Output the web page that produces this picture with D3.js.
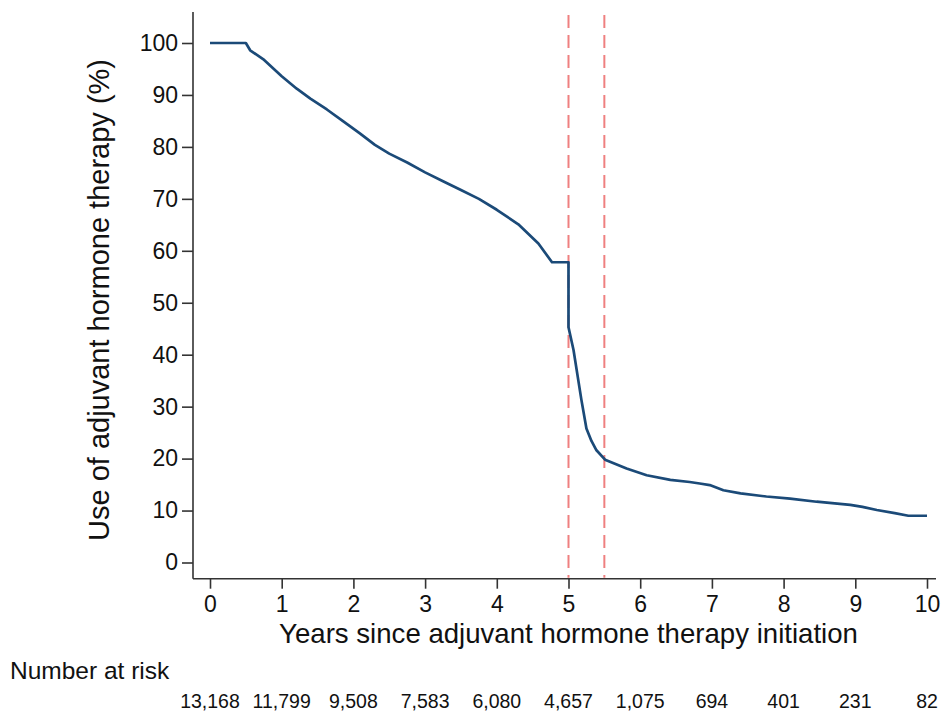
<!DOCTYPE html>
<html>
<head>
<meta charset="utf-8">
<script src="https://cdn.jsdelivr.net/npm/d3@7"></script>
<style>
  body { margin: 0; background: #fff; }
  svg { display: block; font-family: "Liberation Sans", Arial, sans-serif; }
</style>
</head>
<body>
<div id="chart"></div>
<script>
// Kaplan-Meier style curve
const curveYears = [0, 0.5, 0.56, 0.74, 1.0, 1.21, 1.4, 1.63, 1.85, 2.09, 2.3, 2.5, 2.75, 3.0, 3.25, 3.5, 3.75, 4.0, 4.3, 4.58, 4.77, 5.0, 5.0, 5.07, 5.18, 5.25, 5.32, 5.39, 5.51, 5.81, 6.09, 6.42, 6.69, 6.83, 6.97, 7.16, 7.4, 7.76, 8.09, 8.46, 8.93, 9.1, 9.3, 9.55, 9.74, 10.0];
const curvePct   = [100, 100, 98.6, 96.9, 93.6, 91.2, 89.3, 87.2, 85, 82.6, 80.4, 78.7, 77, 75.1, 73.4, 71.7, 70, 67.9, 65.1, 61.4, 57.8, 57.8, 45.3, 40.9, 31.3, 25.8, 23.4, 21.6, 19.8, 18.1, 16.8, 15.9, 15.5, 15.2, 14.9, 13.9, 13.3, 12.7, 12.3, 11.7, 11.1, 10.7, 10.1, 9.5, 9.0, 9.0];

const xTicks = [0, 1, 2, 3, 4, 5, 6, 7, 8, 9, 10];
const yTicks = [0, 10, 20, 30, 40, 50, 60, 70, 80, 90, 100];
const refLines = [5, 5.5];
const riskYears = [0, 1, 2, 3, 4, 5, 6, 7, 8, 9, 10];
const riskCounts = ["13,168", "11,799", "9,508", "7,583", "6,080", "4,657", "1,075", "694", "401", "231", "82"];

const W = 942, H = 712;
const lineColor = "#1b4a78";
const textColor = "#111";

const svg = d3.select("#chart").append("svg")
    .attr("width", W)
    .attr("height", H);

const x = d3.scaleLinear().domain([0, 10]).range([210, 927]);
const y = d3.scaleLinear().domain([0, 100]).range([562.5, 43]);

// axis baselines sit a bit outside the data range
const xAxisY = 578.7, yAxisX = 193;

// y axis
const yAxis = svg.append("g")
    .attr("transform", `translate(${yAxisX},0)`)
    .call(d3.axisLeft(y).tickValues(yTicks).tickSize(11).tickPadding(4));
yAxis.select(".domain").remove();
yAxis.selectAll(".tick line").attr("stroke", "#333").attr("stroke-width", 1.6);
yAxis.selectAll(".tick text")
    .attr("fill", textColor)
    .style("font-size", "23px");
svg.append("line")
    .attr("x1", yAxisX).attr("x2", yAxisX)
    .attr("y1", 12).attr("y2", xAxisY)
    .attr("stroke", "#333").attr("stroke-width", 1.6);

// x axis
const xAxis = svg.append("g")
    .attr("transform", `translate(0,${xAxisY})`)
    .call(d3.axisBottom(x).tickValues(xTicks).tickSize(10).tickPadding(7));
xAxis.select(".domain").remove();
xAxis.selectAll(".tick line").attr("stroke", "#333").attr("stroke-width", 1.6);
xAxis.selectAll(".tick text")
    .attr("fill", textColor)
    .style("font-size", "23px");
svg.append("line")
    .attr("x1", yAxisX).attr("x2", 936)
    .attr("y1", xAxisY).attr("y2", xAxisY)
    .attr("stroke", "#333").attr("stroke-width", 1.6);

// reference lines at 5 and 5.5 years
svg.selectAll(".refline")
    .data(refLines)
    .enter().append("line")
    .attr("class", "refline")
    .attr("x1", d => x(d)).attr("x2", d => x(d))
    .attr("y1", 15).attr("y2", xAxisY - 1)
    .attr("stroke", "#ef8080")
    .attr("stroke-width", 2)
    .attr("stroke-dasharray", "13,7");

// the curve
const pts = curveYears.map((d, i) => [d, curvePct[i]]);
const line = d3.line()
    .x(d => x(d[0]))
    .y(d => y(d[1]));

svg.append("path")
    .datum(pts)
    .attr("d", line)
    .attr("fill", "none")
    .attr("stroke", lineColor)
    .attr("stroke-width", 2.7)
    .attr("stroke-linejoin", "round");

// axis titles
svg.append("text")
    .attr("x", x(5))
    .attr("y", 643)
    .attr("text-anchor", "middle")
    .attr("fill", textColor)
    .style("font-size", "27.6px")
    .text("Years since adjuvant hormone therapy initiation");

svg.append("text")
    .attr("transform", "translate(109,300) rotate(-90)")
    .attr("text-anchor", "middle")
    .attr("fill", textColor)
    .style("font-size", "29px")
    .text("Use of adjuvant hormone therapy (%)");

// number at risk table
svg.append("text")
    .attr("x", 10)
    .attr("y", 679)
    .attr("fill", textColor)
    .style("font-size", "24.5px")
    .text("Number at risk");

svg.selectAll(".risk")
    .data(riskCounts)
    .enter().append("text")
    .attr("class", "risk")
    .attr("x", (d, i) => x(riskYears[i]))
    .attr("y", 708)
    .attr("text-anchor", "middle")
    .attr("fill", textColor)
    .style("font-size", "19.5px")
    .text(d => d);
</script>
</body>
</html>
